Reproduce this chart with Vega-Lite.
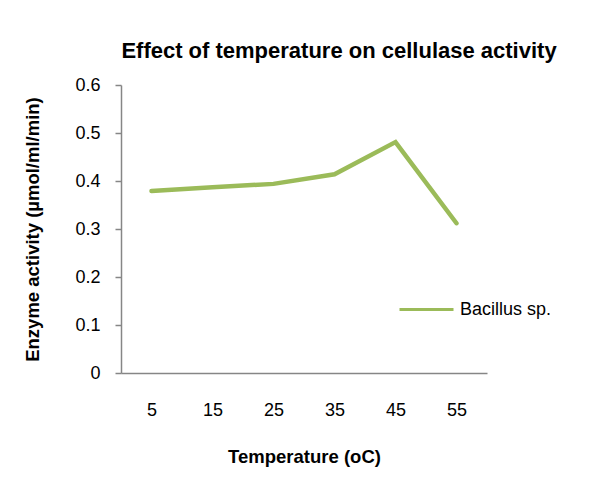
{
  "$schema": "https://vega.github.io/schema/vega-lite/v6.json",
  "autosize": {"type": "none"},
  "width": 366,
  "height": 288,
  "padding": {"left": 121, "top": 85, "right": 110, "bottom": 107},
  "background": "white",
  "title": {
    "text": "Effect of temperature on cellulase activity",
    "font": "Liberation Sans",
    "fontSize": 22,
    "fontWeight": "bold",
    "color": "#000000",
    "anchor": "middle",
    "dx": 35,
    "baseline": "alphabetic",
    "offset": -4
  },
  "config": {
    "view": {"stroke": null},
    "font": "Liberation Sans"
  },
  "data": {
    "values": [
      {"temp": 5, "activity": 0.379, "series": "Bacillus sp."},
      {"temp": 15, "activity": 0.387, "series": "Bacillus sp."},
      {"temp": 25, "activity": 0.394, "series": "Bacillus sp."},
      {"temp": 35, "activity": 0.414, "series": "Bacillus sp."},
      {"temp": 45, "activity": 0.481, "series": "Bacillus sp."},
      {"temp": 55, "activity": 0.312, "series": "Bacillus sp."}
    ]
  },
  "mark": {"type": "line", "strokeWidth": 4.5, "strokeCap": "round", "strokeJoin": "miter"},
  "encoding": {
    "x": {
      "field": "temp",
      "type": "ordinal",
      "scale": {"type": "point", "padding": 0.5},
      "axis": {
        "title": "Temperature (oC)",
        "titleFont": "Liberation Sans",
        "titleFontSize": 18.5,
        "titleFontWeight": "bold",
        "titleColor": "#000000",
        "titlePadding": 28,
        "labelAngle": 0,
        "labelFont": "Liberation Sans",
        "labelFontSize": 18,
        "labelColor": "#000000",
        "labelPadding": 28,
        "ticks": false,
        "domainColor": "#868686",
        "domainWidth": 1.5,
        "grid": false
      }
    },
    "y": {
      "field": "activity",
      "type": "quantitative",
      "scale": {"domain": [0, 0.6], "nice": false},
      "axis": {
        "title": "Enzyme activity (µmol/ml/min)",
        "titleFont": "Liberation Sans",
        "titleFontSize": 18.5,
        "titleFontWeight": "bold",
        "titleColor": "#000000",
        "titlePadding": 32,
        "values": [0, 0.1, 0.2, 0.3, 0.4, 0.5, 0.6],
        "format": "~g",
        "labelFont": "Liberation Sans",
        "labelFontSize": 18,
        "labelColor": "#000000",
        "labelPadding": 15,
        "tickSize": 6,
        "tickColor": "#868686",
        "tickWidth": 1.5,
        "domainColor": "#868686",
        "domainWidth": 1.5,
        "grid": false
      }
    },
    "color": {
      "field": "series",
      "type": "nominal",
      "scale": {"range": ["#9BBB59"]},
      "legend": {
        "title": null,
        "orient": "none",
        "legendX": 277,
        "legendY": 196,
        "padding": 0,
        "symbolType": "stroke",
        "symbolSize": 2916,
        "symbolStrokeWidth": 3,
        "labelFont": "Liberation Sans",
        "labelFontSize": 18,
        "labelColor": "#000000",
        "labelOffset": 5
      }
    }
  }
}
